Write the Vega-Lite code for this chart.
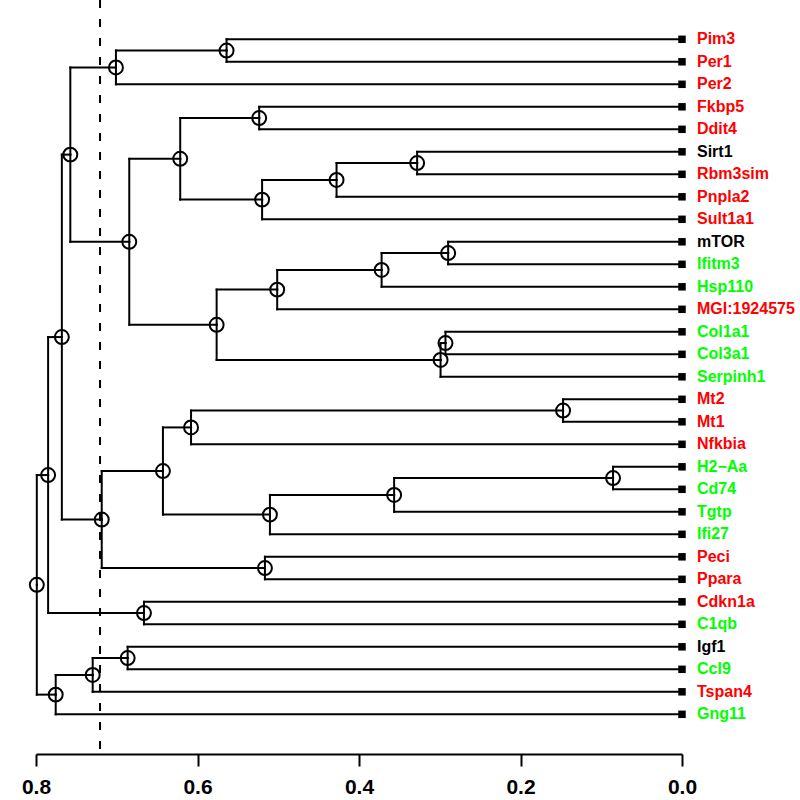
{
  "$schema": "https://vega.github.io/schema/vega-lite/v6.json",
  "autosize": {"type": "none"},
  "width": 646,
  "height": 754,
  "padding": {"left": 36, "top": 0, "right": 118, "bottom": 46},
  "background": "white",
  "config": {"view": {"stroke": null}},
  "datasets": {
    "tree": [
      {"id": "L1", "kind": "leaf", "label": "Pim3", "group": "red", "h": 0, "y": 1, "ph": 0.564, "py": 1.5},
      {"id": "L2", "kind": "leaf", "label": "Per1", "group": "red", "h": 0, "y": 2, "ph": 0.564, "py": 1.5},
      {"id": "L3", "kind": "leaf", "label": "Per2", "group": "red", "h": 0, "y": 3, "ph": 0.701, "py": 2.25},
      {"id": "L4", "kind": "leaf", "label": "Fkbp5", "group": "red", "h": 0, "y": 4, "ph": 0.5236, "py": 4.5},
      {"id": "L5", "kind": "leaf", "label": "Ddit4", "group": "red", "h": 0, "y": 5, "ph": 0.5236, "py": 4.5},
      {"id": "L6", "kind": "leaf", "label": "Sirt1", "group": "black", "h": 0, "y": 6, "ph": 0.328, "py": 6.5},
      {"id": "L7", "kind": "leaf", "label": "Rbm3sim", "group": "red", "h": 0, "y": 7, "ph": 0.328, "py": 6.5},
      {"id": "L8", "kind": "leaf", "label": "Pnpla2", "group": "red", "h": 0, "y": 8, "ph": 0.4278, "py": 7.25},
      {"id": "L9", "kind": "leaf", "label": "Sult1a1", "group": "red", "h": 0, "y": 9, "ph": 0.52, "py": 8.125},
      {"id": "L10", "kind": "leaf", "label": "mTOR", "group": "black", "h": 0, "y": 10, "ph": 0.2896, "py": 10.5},
      {"id": "L11", "kind": "leaf", "label": "Ifitm3", "group": "green", "h": 0, "y": 11, "ph": 0.2896, "py": 10.5},
      {"id": "L12", "kind": "leaf", "label": "Hsp110", "group": "green", "h": 0, "y": 12, "ph": 0.372, "py": 11.25},
      {"id": "L13", "kind": "leaf", "label": "MGI:1924575", "group": "red", "h": 0, "y": 13, "ph": 0.5013, "py": 12.125},
      {"id": "L14", "kind": "leaf", "label": "Col1a1", "group": "green", "h": 0, "y": 14, "ph": 0.2929, "py": 14.5},
      {"id": "L15", "kind": "leaf", "label": "Col3a1", "group": "green", "h": 0, "y": 15, "ph": 0.2929, "py": 14.5},
      {"id": "L16", "kind": "leaf", "label": "Serpinh1", "group": "green", "h": 0, "y": 16, "ph": 0.299, "py": 15.25},
      {"id": "L17", "kind": "leaf", "label": "Mt2", "group": "red", "h": 0, "y": 17, "ph": 0.1473, "py": 17.5},
      {"id": "L18", "kind": "leaf", "label": "Mt1", "group": "red", "h": 0, "y": 18, "ph": 0.1473, "py": 17.5},
      {"id": "L19", "kind": "leaf", "label": "Nfkbia", "group": "red", "h": 0, "y": 19, "ph": 0.608, "py": 18.25},
      {"id": "L20", "kind": "leaf", "label": "H2−Aa", "group": "green", "h": 0, "y": 20, "ph": 0.0854, "py": 20.5},
      {"id": "L21", "kind": "leaf", "label": "Cd74", "group": "green", "h": 0, "y": 21, "ph": 0.0854, "py": 20.5},
      {"id": "L22", "kind": "leaf", "label": "Tgtp", "group": "green", "h": 0, "y": 22, "ph": 0.3565, "py": 21.25},
      {"id": "L23", "kind": "leaf", "label": "Ifi27", "group": "green", "h": 0, "y": 23, "ph": 0.5103, "py": 22.125},
      {"id": "L24", "kind": "leaf", "label": "Peci", "group": "red", "h": 0, "y": 24, "ph": 0.5165, "py": 24.5},
      {"id": "L25", "kind": "leaf", "label": "Ppara", "group": "red", "h": 0, "y": 25, "ph": 0.5165, "py": 24.5},
      {"id": "L26", "kind": "leaf", "label": "Cdkn1a", "group": "red", "h": 0, "y": 26, "ph": 0.6663, "py": 26.5},
      {"id": "L27", "kind": "leaf", "label": "C1qb", "group": "green", "h": 0, "y": 27, "ph": 0.6663, "py": 26.5},
      {"id": "L28", "kind": "leaf", "label": "Igf1", "group": "black", "h": 0, "y": 28, "ph": 0.6865, "py": 28.5},
      {"id": "L29", "kind": "leaf", "label": "Ccl9", "group": "green", "h": 0, "y": 29, "ph": 0.6865, "py": 28.5},
      {"id": "L30", "kind": "leaf", "label": "Tspan4", "group": "red", "h": 0, "y": 30, "ph": 0.7298, "py": 29.25},
      {"id": "L31", "kind": "leaf", "label": "Gng11", "group": "green", "h": 0, "y": 31, "ph": 0.7756, "py": 30.125},
      {"id": "N1", "kind": "node", "h": 0.564, "y": 1.5, "ph": 0.701, "py": 2.25},
      {"id": "N2", "kind": "node", "h": 0.701, "y": 2.25, "ph": 0.7575, "py": 6.125},
      {"id": "N3", "kind": "node", "h": 0.5236, "y": 4.5, "ph": 0.6214, "py": 6.3125},
      {"id": "N4", "kind": "node", "h": 0.328, "y": 6.5, "ph": 0.4278, "py": 7.25},
      {"id": "N5", "kind": "node", "h": 0.4278, "y": 7.25, "ph": 0.52, "py": 8.125},
      {"id": "N6", "kind": "node", "h": 0.52, "y": 8.125, "ph": 0.6214, "py": 6.3125},
      {"id": "N7", "kind": "node", "h": 0.6214, "y": 6.3125, "ph": 0.6845, "py": 10},
      {"id": "N8", "kind": "node", "h": 0.2896, "y": 10.5, "ph": 0.372, "py": 11.25},
      {"id": "N9", "kind": "node", "h": 0.372, "y": 11.25, "ph": 0.5013, "py": 12.125},
      {"id": "N10", "kind": "node", "h": 0.5013, "y": 12.125, "ph": 0.5763, "py": 13.6875},
      {"id": "N11", "kind": "node", "h": 0.2929, "y": 14.5, "ph": 0.299, "py": 15.25},
      {"id": "N12", "kind": "node", "h": 0.299, "y": 15.25, "ph": 0.5763, "py": 13.6875},
      {"id": "N13", "kind": "node", "h": 0.5763, "y": 13.6875, "ph": 0.6845, "py": 10},
      {"id": "N14", "kind": "node", "h": 0.6845, "y": 10, "ph": 0.7575, "py": 6.125},
      {"id": "N15", "kind": "node", "h": 0.7575, "y": 6.125, "ph": 0.768, "py": 14.234375},
      {"id": "N16", "kind": "node", "h": 0.1473, "y": 17.5, "ph": 0.608, "py": 18.25},
      {"id": "N17", "kind": "node", "h": 0.608, "y": 18.25, "ph": 0.6428, "py": 20.1875},
      {"id": "N18", "kind": "node", "h": 0.0854, "y": 20.5, "ph": 0.3565, "py": 21.25},
      {"id": "N19", "kind": "node", "h": 0.3565, "y": 21.25, "ph": 0.5103, "py": 22.125},
      {"id": "N20", "kind": "node", "h": 0.5103, "y": 22.125, "ph": 0.6428, "py": 20.1875},
      {"id": "N21", "kind": "node", "h": 0.6428, "y": 20.1875, "ph": 0.7186, "py": 22.34375},
      {"id": "N22", "kind": "node", "h": 0.5165, "y": 24.5, "ph": 0.7186, "py": 22.34375},
      {"id": "N23", "kind": "node", "h": 0.7186, "y": 22.34375, "ph": 0.768, "py": 14.234375},
      {"id": "N24", "kind": "node", "h": 0.768, "y": 14.234375, "ph": 0.785, "py": 20.3671875},
      {"id": "N25", "kind": "node", "h": 0.6663, "y": 26.5, "ph": 0.785, "py": 20.3671875},
      {"id": "N26", "kind": "node", "h": 0.785, "y": 20.3671875, "ph": 0.799, "py": 25.24609375},
      {"id": "N27", "kind": "node", "h": 0.6865, "y": 28.5, "ph": 0.7298, "py": 29.25},
      {"id": "N28", "kind": "node", "h": 0.7298, "y": 29.25, "ph": 0.7756, "py": 30.125},
      {"id": "N29", "kind": "node", "h": 0.7756, "y": 30.125, "ph": 0.799, "py": 25.24609375},
      {"id": "N30", "kind": "node", "h": 0.799, "y": 25.24609375, "ph": null, "py": null}
    ],
    "cut": [{"threshold": 0.7207}]
  },
  "resolve": {"scale": {"x": "shared", "y": "shared"}},
  "layer": [
    {
      "data": {"name": "cut"},
      "mark": {"type": "rule", "color": "black", "strokeWidth": 2, "strokeDash": [8, 11]},
      "encoding": {
        "x": {"field": "threshold", "type": "quantitative",
              "scale": {"domain": [0, 0.8], "reverse": true, "nice": false, "zero": false},
              "axis": {"values": [0, 0.2, 0.4, 0.6, 0.8], "format": ".1f", "title": null, "grid": false,
                       "labelFont": "Liberation Sans", "labelFontWeight": "bold", "labelFontSize": 21,
                       "labelColor": "black", "labelPadding": 10, "labelFlush": false,
                       "tickColor": "black", "tickSize": 12, "tickWidth": 2,
                       "domainColor": "black", "domainWidth": 2}}
      }
    },
    {
      "data": {"name": "tree"},
      "transform": [{"filter": "datum.ph != null"}],
      "mark": {"type": "rule", "color": "black", "strokeWidth": 2, "strokeCap": "square"},
      "encoding": {
        "x": {"field": "h", "type": "quantitative"},
        "x2": {"field": "ph"},
        "y": {"field": "y", "type": "quantitative",
              "scale": {"domain": [-0.7467, 32.764], "reverse": true, "nice": false, "zero": false},
              "axis": null}
      }
    },
    {
      "data": {"name": "tree"},
      "transform": [{"filter": "datum.ph != null"}],
      "mark": {"type": "rule", "color": "black", "strokeWidth": 2, "strokeCap": "square"},
      "encoding": {
        "x": {"field": "ph", "type": "quantitative"},
        "y": {"field": "y", "type": "quantitative"},
        "y2": {"field": "py"}
      }
    },
    {
      "data": {"name": "tree"},
      "transform": [{"filter": "datum.kind == 'node'"}],
      "mark": {"type": "point", "shape": "circle", "filled": false, "size": 195, "stroke": "black", "strokeWidth": 2, "opacity": 1},
      "encoding": {
        "x": {"field": "h", "type": "quantitative"},
        "y": {"field": "y", "type": "quantitative"}
      }
    },
    {
      "data": {"name": "tree"},
      "transform": [{"filter": "datum.kind == 'leaf'"}],
      "mark": {"type": "point", "shape": "square", "filled": true, "size": 56, "color": "black", "opacity": 1},
      "encoding": {
        "x": {"field": "h", "type": "quantitative"},
        "y": {"field": "y", "type": "quantitative"}
      }
    },
    {
      "data": {"name": "tree"},
      "transform": [{"filter": "datum.kind == 'leaf'"}],
      "mark": {"type": "text", "align": "left", "baseline": "middle", "dx": 15, "font": "Liberation Sans", "fontWeight": "bold", "fontSize": 16},
      "encoding": {
        "x": {"field": "h", "type": "quantitative"},
        "y": {"field": "y", "type": "quantitative"},
        "text": {"field": "label"},
        "color": {"field": "group", "type": "nominal",
                  "scale": {"domain": ["red", "green", "black"], "range": ["#FF0000", "#00FF00", "#000000"]},
                  "legend": null}
      }
    }
  ]
}
